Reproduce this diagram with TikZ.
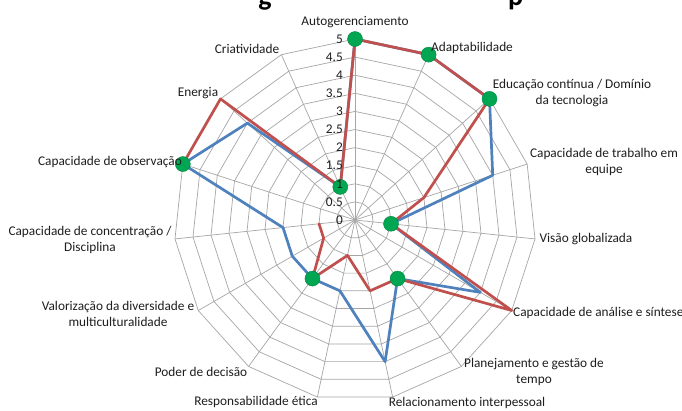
\documentclass[tikz,border=0pt]{standalone}
\usepackage{fontspec}
\setmainfont{Carlito}
\definecolor{redS}{HTML}{C0504D}
\definecolor{blueS}{HTML}{4F81BD}
\definecolor{gridc}{HTML}{A6A6A6}
\definecolor{dotg}{HTML}{00A651}
\definecolor{txt}{HTML}{1E1E1E}
\tikzset{
  lbl/.style={font=\fontsize{13.3}{15.5}\selectfont, text=txt, inner sep=0pt, align=center},
  tick/.style={font=\fontsize{13.3}{15.5}\selectfont, text=txt, inner sep=0pt, anchor=east},
  gridline/.style={draw=gridc, line width=0.7pt},
  series/.style={line width=2.7pt, line join=round, line cap=round},
  dotm/.style={fill=dotg, draw=dotg!80!black, line width=0.4pt},
  ttl/.style={font=\fontsize{28}{32}\selectfont\bfseries, text=black, inner sep=0pt}
}
\begin{document}
\begin{tikzpicture}[x=1pt,y=-1pt]
\useasboundingbox (0,0) rectangle (682,410);
\fill[white] (0,0) rectangle (682,410);
\coordinate (C) at (355,220);
% title fragments (cut by the top edge)
\node[ttl, anchor=base] (tg) at (265,5) {g};
\node[ttl, anchor=base west] (tp) at (508,5) {p};
% rings
\foreach \k in {1,...,10} {
  \draw[gridline] plot[samples at={0,...,15}] ({355+18.1*\k*sin(24*\x)},{220-18.1*\k*cos(24*\x)}) -- cycle;
}
% spokes
\foreach \i in {0,...,14} {
  \coordinate (s\i) at ({355+181*sin(24*\i)},{220-181*cos(24*\i)});
  \draw[gridline] (C) -- (s\i);
}
% data points
\foreach \v [count=\i from 0] in {5,5,5,4,1,4,2,4,2,2,2,2,5,4,1} {
  \coordinate (b\i) at ({355+36.2*\v*sin(24*\i)},{220-36.2*\v*cos(24*\i)});
}
\foreach \v [count=\i from 0] in {5,5,5,2,1,5,2,2,1,2,1,1,5,5,1} {
  \coordinate (r\i) at ({355+36.2*\v*sin(24*\i)},{220-36.2*\v*cos(24*\i)});
}
% blue series
\draw[series, blueS] (b0) \foreach \i in {1,...,14} { -- (b\i) } -- cycle;
% red series
\draw[series, redS] (r12) -- (r13) -- (r14) \foreach \i in {0,...,11} { -- (r\i) };
% green markers
\foreach \i in {0,1,2,4,6,9,12,14} {
  \fill[dotm] (r\i) circle (7.5pt);
}
% tick labels
\foreach \k/\t in {0/0,1/0.5,2/1,3/1.5,4/2,5/2.5,6/3,7/3.5,8/4,9/4.5,10/5} {
  \node[tick] (t\k) at (343,{220-18.1*\k}) {\t};
}
% category labels
\node[lbl] (l0) at (355,22) {Autogerenciamento};
\node[lbl] (l1) at (472,48) {Adaptabilidade};
\node[lbl] (l2) at (572,93) {Educação contínua / Domínio\\da tecnologia};
\node[lbl] (l3) at (604,162) {Capacidade de trabalho em\\equipe};
\node[lbl] (l4) at (586,239) {Visão globalizada};
\node[lbl, anchor=west] (l5) at (513,313) {Capacidade de análise e síntese};
\node[lbl] (l6) at (534,372) {Planejamento e gestão de\\tempo};
\node[lbl] (l7) at (467,403) {Relacionamento interpessoal};
\node[lbl] (l8) at (256,402) {Responsabilidade ética};
\node[lbl] (l9) at (201,372) {Poder de decisão};
\node[lbl] (l10) at (118,314) {Valorização da diversidade e\\multiculturalidade};
\node[lbl] (l11) at (90,240) {Capacidade de concentração /\\Disciplina};
\node[lbl, anchor=east] (l12) at (182,162) {Capacidade de observação};
\node[lbl] (l13) at (198,93) {Energia};
\node[lbl] (l14) at (247,49) {Criatividade};
\end{tikzpicture}
\end{document}
